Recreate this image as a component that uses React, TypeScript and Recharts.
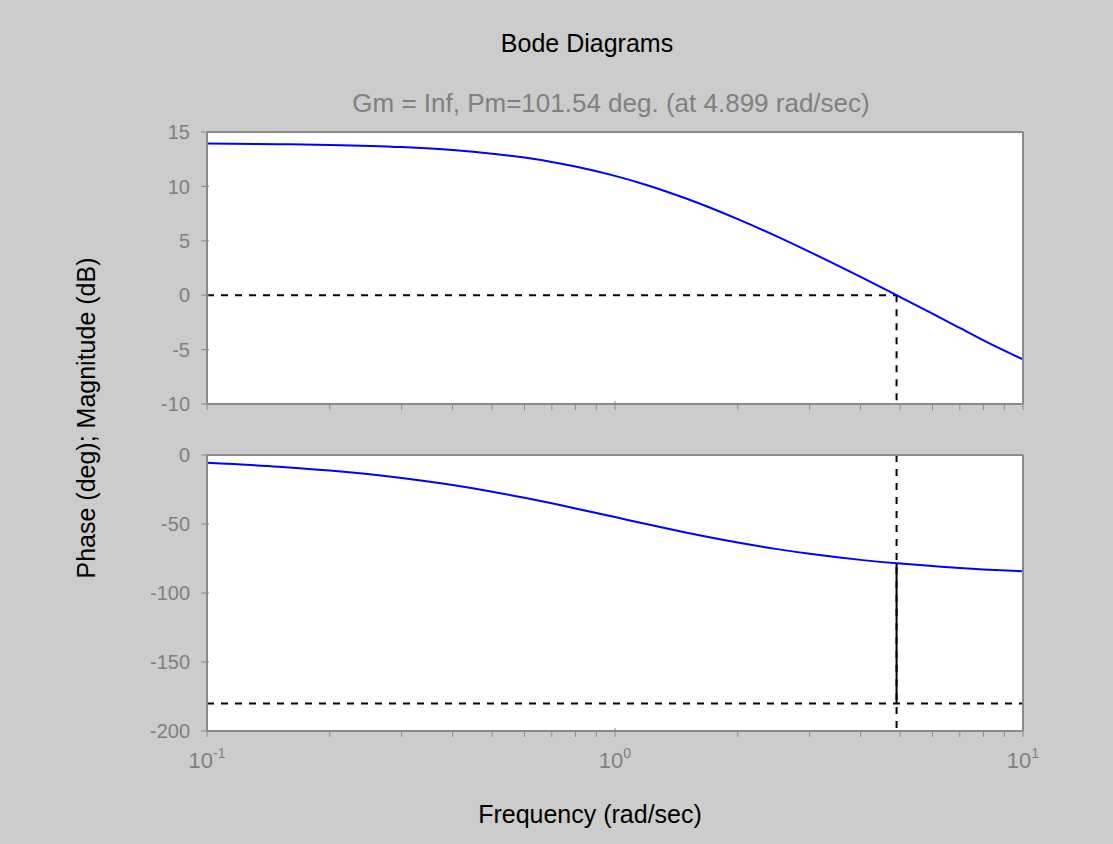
import { LineChart, Line, XAxis, YAxis, CartesianGrid, ReferenceLine } from 'recharts';

// frequency samples (rad/sec) with magnitude (dB) and phase (deg)
const FREQ = [0.1, 0.15, 0.2, 0.3, 0.4, 0.5, 0.6, 0.7, 0.8, 1, 1.2, 1.5, 2, 2.5, 3, 4, 5, 6, 7, 8, 10];
const MAG = [13.94, 13.88, 13.81, 13.61, 13.34, 13.01, 12.65, 12.25, 11.83, 10.97, 10.11, 8.86, 6.99, 5.38, 3.98, 1.68, -0.17, -1.7, -3.01, -4.15, -5.9];
const PHASE = [-5.7, -8.5, -11.3, -16.7, -21.8, -26.6, -31.0, -35.0, -38.7, -45.0, -50.2, -56.3, -63.4, -68.2, -71.6, -76.0, -78.7, -80.5, -81.9, -82.9, -84.2];

const X_TICKS = [0.1, 0.2, 0.3, 0.4, 0.5, 0.6, 0.7, 0.8, 0.9, 1, 2, 3, 4, 5, 6, 7, 8, 9, 10];
const X_MAJOR = [0.1, 1, 10];
const X_LABELS: Record<number, string> = { 0.1: '-1', 1: '0', 10: '1' };
const MAG_TICKS = [-10, -5, 0, 5, 10, 15];
const PHASE_TICKS = [-200, -150, -100, -50, 0];

const WC = 4.899; // gain crossover
const PHASE_AT_WC = -78.46; // Pm = 101.54 deg

const data = FREQ.map((f, i) => ({ f, mag: MAG[i], phase: PHASE[i] }));

const FONT = '"Liberation Sans", Arial, sans-serif';
const AXIS = '#8a8a8a';
const LABEL = '#808080';
const BG = '#cccccc';

const BottomTick = (p: any) => {
  const v = p.payload.value;
  const major = X_MAJOR.includes(v);
  return (
    <g>
      <line x1={p.x} y1={p.y} x2={p.x} y2={p.y - (major ? 9 : 5)} stroke={AXIS} strokeWidth={1} />
      {p.labels && major && (
        <text x={p.x} y={p.y + 31} textAnchor="middle" fill={LABEL} fontSize={22} fontFamily={FONT}>
          <tspan>10</tspan>
          <tspan dy={-10} fontSize={14}>{X_LABELS[v]}</tspan>
        </text>
      )}
    </g>
  );
};

const TopTick = (p: any) => {
  const major = X_MAJOR.includes(p.payload.value);
  return <line x1={p.x} y1={p.y} x2={p.x} y2={p.y + (major ? 9 : 5)} stroke={AXIS} strokeWidth={1} />;
};

const LeftTick = (p: any) => (
  <g>
    <line x1={p.x} y1={p.y} x2={p.x + 8} y2={p.y} stroke={AXIS} strokeWidth={1} />
    <text x={p.x - 11} y={p.y} dy="0.36em" textAnchor="end" fill={LABEL} fontSize={20} fontFamily={FONT}>
      {p.payload.value}
    </text>
  </g>
);

const RightTick = (p: any) => <line x1={p.x} y1={p.y} x2={p.x - 8} y2={p.y} stroke={AXIS} strokeWidth={1} />;

const axisLine = { stroke: AXIS, strokeWidth: 2 };

const Axes = ({ domain, ticks, labels }: { domain: number[]; ticks: number[]; labels: boolean }) => (
  <>
    <CartesianGrid fill="#ffffff" horizontal={false} vertical={false} />
    <XAxis dataKey="f" type="number" scale="log" domain={[0.1, 10]} ticks={X_TICKS} interval={0}
      height={10} tickLine={false} tickMargin={0} axisLine={axisLine}
      tick={(p: any) => <BottomTick {...p} labels={labels} />} />
    <XAxis xAxisId="top" orientation="top" type="number" scale="log" domain={[0.1, 10]} ticks={X_TICKS} interval={0}
      height={10} tickLine={false} tickMargin={0} axisLine={axisLine} tick={TopTick} />
    <YAxis type="number" domain={domain} ticks={ticks} interval={0} width={60}
      tickLine={false} tickMargin={0} axisLine={axisLine} tick={LeftTick} />
    <YAxis yAxisId="right" orientation="right" type="number" domain={domain} ticks={ticks} interval={0} width={10}
      tickLine={false} tickMargin={0} axisLine={axisLine} tick={RightTick} />
  </>
);

export default function App() {
  return (
    <div style={{ position: 'absolute', left: 0, top: 0, width: 1113, height: 844, background: BG, overflow: 'hidden' }}>
      <div style={{ position: 'absolute', left: 0, top: 0 }}>
        <LineChart width={1113} height={420} data={data} margin={{ top: 122, right: 80, bottom: 6, left: 147 }}>
          {Axes({ domain: [-10, 15], ticks: MAG_TICKS, labels: false })}
          <ReferenceLine segment={[{ x: 0.1, y: 0 }, { x: WC, y: 0 }]} stroke="#000" strokeWidth={2} strokeDasharray="7 7" />
          <ReferenceLine segment={[{ x: WC, y: 0 }, { x: WC, y: -10 }]} stroke="#000" strokeWidth={2} strokeDasharray="7 7" />
          <Line dataKey="mag" type="monotone" stroke="#0000ff" strokeWidth={2} dot={false} isAnimationActive={false} />
        </LineChart>
      </div>
      <div style={{ position: 'absolute', left: 0, top: 420 }}>
        <LineChart width={1113} height={424} data={data} margin={{ top: 25, right: 80, bottom: 103, left: 147 }}>
          {Axes({ domain: [-200, 0], ticks: PHASE_TICKS, labels: true })}
          <ReferenceLine segment={[{ x: 0.1, y: -180 }, { x: 10, y: -180 }]} stroke="#000" strokeWidth={2} strokeDasharray="7 7" />
          <ReferenceLine segment={[{ x: WC, y: 0 }, { x: WC, y: -200 }]} stroke="#000" strokeWidth={2} strokeDasharray="7 7" />
          <ReferenceLine segment={[{ x: WC, y: PHASE_AT_WC }, { x: WC, y: -180 }]} stroke="#000" strokeWidth={2} />
          <Line dataKey="phase" type="monotone" stroke="#0000ff" strokeWidth={2} dot={false} isAnimationActive={false} />
        </LineChart>
      </div>
      <svg width={1113} height={844} style={{ position: 'absolute', left: 0, top: 0, pointerEvents: 'none' }} fontFamily={FONT}>
        <text x={587} y={52} textAnchor="middle" fontSize={25} fill="#000">Bode Diagrams</text>
        <text x={611} y={112} textAnchor="middle" fontSize={26} fill={LABEL}>Gm = Inf, Pm=101.54 deg. (at 4.899 rad/sec)</text>
        <text x={95} y={418} textAnchor="middle" fontSize={25} fill="#000" transform="rotate(-90 95 418)">
          Phase (deg); Magnitude (dB)
        </text>
        <text x={590} y={823} textAnchor="middle" fontSize={25} fill="#000">Frequency (rad/sec)</text>
      </svg>
    </div>
  );
}
